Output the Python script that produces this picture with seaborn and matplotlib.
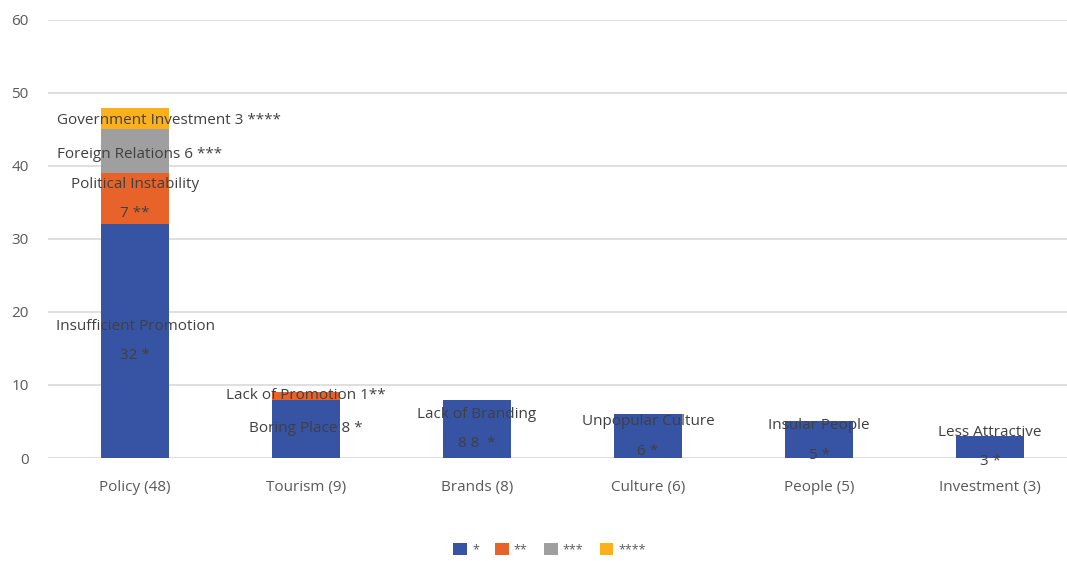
import matplotlib
matplotlib.use("Agg")
import matplotlib.pyplot as plt
import seaborn as sns
import pandas as pd
import numpy as np

categories = ["Policy (48)", "Tourism (9)", "Brands (8)", "Culture (6)", "People (5)", "Investment (3)"]
s1 = [32, 8, 8, 6, 5, 3]
s2 = [7, 1, 0, 0, 0, 0]
s3 = [6, 0, 0, 0, 0, 0]
s4 = [3, 0, 0, 0, 0, 0]
series_names = ["*", "**", "***", "****"]
colors = ["#3753A4", "#E8632A", "#9F9F9F", "#FCB11C"]

# annotations: (category index, y value, text, alignment)
annotations = [
    (0, 18.0, "Insufficient Promotion", "center"),
    (0, 14.0, "32 *", "center"),
    (0, 37.5, "Political Instability", "center"),
    (0, 33.5, "7 **", "center"),
    (0, 41.6, "Foreign Relations 6 ***", "left"),
    (0, 46.2, "Government Investment 3 ****", "left"),
    (1, 8.5, "Lack of Promotion 1**", "center"),
    (1, 4.0, "Boring Place 8 *", "center"),
    (2, 6.0, "Lack of Branding", "center"),
    (2, 2.0, "8 8  *", "center"),
    (3, 5.0, "Unpopular Culture", "center"),
    (3, 0.9, "6 *", "center"),
    (4, 4.5, "Insular People", "center"),
    (4, 0.4, "5 *", "center"),
    (5, 3.5, "Less Attractive", "center"),
    (5, -0.5, "3 *", "center"),
]

sns.set_theme(style="white")
plt.rcParams["font.family"] = ["Open Sans", "DejaVu Sans"]

fig = plt.figure(figsize=(10.67, 5.61), dpi=100)
ax = fig.add_axes([0.045, 0.1836, 0.955, 0.7808])

df = pd.DataFrame({"cat": categories, "s1": s1, "s2": s2, "s3": s3, "s4": s4})
bottom = np.zeros(len(categories))
for key, name, col in zip(["s1", "s2", "s3", "s4"], series_names, colors):
    sns.barplot(data=df, x="cat", y=key, color=col, width=0.4, bottom=bottom,
                ax=ax, label=name, saturation=1, zorder=3, linewidth=0,
                edgecolor="none")
    bottom = bottom + df[key].values

leg = ax.get_legend()
if leg is not None:
    leg.remove()

ax.set_xlim(-0.509, 5.45)
ax.set_ylim(0, 60)
ax.set_yticks(range(0, 61, 10))
ax.yaxis.grid(True, color="#D9D9D9", linewidth=1.2, zorder=0)
ax.set_axisbelow(True)
for sp in ax.spines.values():
    sp.set_visible(False)
ax.set_xlabel("")
ax.set_ylabel("")
ax.tick_params(axis="both", length=0, labelsize=11, labelcolor="#595959")
ax.tick_params(axis="x", pad=16)
ax.tick_params(axis="y", pad=14)

for idx, yv, txt, ha in annotations:
    if ha == "left":
        x = idx - 0.455
    else:
        x = idx
    ax.text(x, yv, txt, ha=ha, va="center", fontsize=11, color="#404040",
            zorder=5, clip_on=False)

handles, labels = ax.get_legend_handles_labels()
fig.legend(handles, labels, loc="lower center", bbox_to_anchor=(0.515, -0.012),
           ncol=4, frameon=False, fontsize=9, handlelength=1.1, handleheight=1.1,
           columnspacing=1.3, handletextpad=0.4, labelcolor="#595959")

fig.savefig("out.png", dpi=100)
